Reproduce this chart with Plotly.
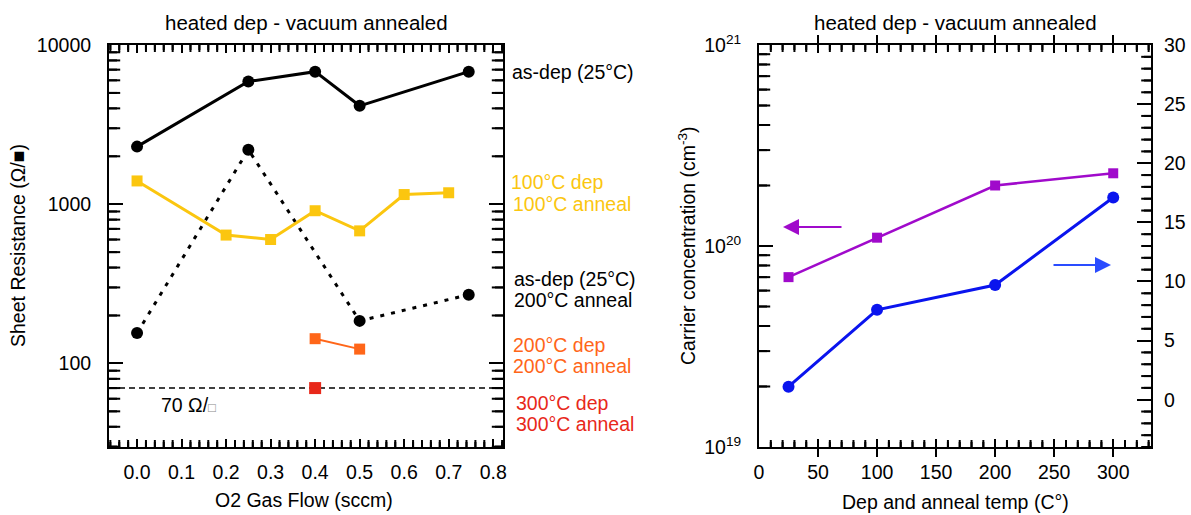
import numpy as np
import plotly.graph_objects as go

W, H = 1191, 515

# ---------------- data ----------------
o2_asdep = [0.0, 0.25, 0.4, 0.5, 0.745]
rs_asdep = [2300, 5900, 6800, 4150, 6800]

o2_asdep_200 = [0.0, 0.25, 0.5, 0.745]
rs_asdep_200 = [155, 2200, 185, 270]

o2_100 = [0.0, 0.2, 0.3, 0.4, 0.5, 0.6, 0.7]
rs_100 = [1400, 640, 600, 910, 680, 1150, 1180]

o2_200 = [0.4, 0.5]
rs_200 = [143, 123]

o2_300 = [0.4]
rs_300 = [70]

rs_threshold = 70

temps = [25, 100, 200, 300]
carrier_conc = [7.0e19, 1.1e20, 2.0e20, 2.3e20]
right_values = [1.1, 7.6, 9.7, 17.1]

x_ticks_left = [0.0, 0.1, 0.2, 0.3, 0.4, 0.5, 0.6, 0.7, 0.8]
x_ticktext_left = ["0.0", "0.1", "0.2", "0.3", "0.4", "0.5", "0.6", "0.7", "0.8"]
y_ticks_left = [100, 1000, 10000]
y_ticktext_left = ["100", "1000", "10000"]
y_ticks_right = [1e19, 1e20, 1e21]
y_ticktext_right = ["10<sup>19</sup>", "10<sup>20</sup>", "10<sup>21</sup>"]

# ---------------- colours ----------------
BLACK = "#000000"
YELLOW = "#FBC60F"
ORANGE = "#FF6619"
RED = "#E8281A"
PURPLE = "#A00ACB"
BLUE = "#0A14EE"
BLUE_ARROW = "#2A4CFF"
FONT = "Liberation Sans, Arial, sans-serif"

# axis ranges
XR_L = [-0.063, 0.822]
YR_L = [1.475, 4]
XR_R = [0, 332]
YR_R = [19, 21]
Y2R_R = [-4, 30]

# plot-area geometry (pixels)
L_X0, L_X1 = 109, 503
R_X0, R_X1 = 759, 1151
P_Y0, P_Y1 = 45, 447


def px(x):
    return x / W


def py(y):
    return 1 - y / H


fig = go.Figure()

# left panel
fig.add_trace(go.Scatter(x=o2_asdep, y=rs_asdep, mode="lines+markers",
                         line=dict(color=BLACK, width=3),
                         marker=dict(symbol="circle", size=12, color=BLACK),
                         xaxis="x", yaxis="y", showlegend=False))
fig.add_trace(go.Scatter(x=o2_asdep_200, y=rs_asdep_200, mode="lines+markers",
                         line=dict(color=BLACK, width=3, dash="4px,7px"),
                         marker=dict(symbol="circle", size=12, color=BLACK),
                         xaxis="x", yaxis="y", showlegend=False))
fig.add_trace(go.Scatter(x=o2_100, y=rs_100, mode="lines+markers",
                         line=dict(color=YELLOW, width=3),
                         marker=dict(symbol="square", size=11, color=YELLOW),
                         xaxis="x", yaxis="y", showlegend=False))
fig.add_trace(go.Scatter(x=o2_200, y=rs_200, mode="lines+markers",
                         line=dict(color=ORANGE, width=2),
                         marker=dict(symbol="square", size=11, color=ORANGE),
                         xaxis="x", yaxis="y", showlegend=False))
fig.add_trace(go.Scatter(x=o2_300, y=rs_300, mode="markers",
                         marker=dict(symbol="square", size=12, color=RED),
                         xaxis="x", yaxis="y", showlegend=False))

# right panel
fig.add_trace(go.Scatter(x=temps, y=carrier_conc, mode="lines+markers",
                         line=dict(color=PURPLE, width=2.5),
                         marker=dict(symbol="square", size=10, color=PURPLE),
                         xaxis="x2", yaxis="y2", showlegend=False))
fig.add_trace(go.Scatter(x=temps, y=right_values, mode="lines+markers",
                         line=dict(color=BLUE, width=3),
                         marker=dict(symbol="circle", size=12, color=BLUE),
                         xaxis="x2", yaxis="y3", showlegend=False))

shapes = []

# 70 ohm/sq reference line
shapes.append(dict(type="line", xref="x domain", x0=0, x1=1, yref="y",
                   y0=rs_threshold, y1=rs_threshold, layer="below",
                   line=dict(color=BLACK, width=1.5, dash="6px,4px")))


def minor_log(lo_exp, hi_exp, lo, hi):
    vals = []
    for e in range(lo_exp, hi_exp + 1):
        for d in range(2, 10):
            v = float(d) * 10.0 ** e
            if lo <= v <= hi:
                vals.append(v)
    return vals


def minor_lin(lo, hi, step, major):
    n0 = int(np.ceil(lo / step - 1e-9))
    n1 = int(np.floor(hi / step + 1e-9))
    out = []
    for n in range(n0, n1 + 1):
        v = n * step
        if abs(v / major - round(v / major)) > 1e-6:
            out.append(round(v, 6))
    return out


TICK_LINE = dict(color=BLACK, width=2)


def x_minor_ticks(xref, yref, vals, length_px, y_edges):
    # shapes (domain-relative) plus clipped line markers at the frame edges
    frac = length_px / (P_Y1 - P_Y0)
    for v in vals:
        shapes.append(dict(type="line", xref=xref, yref=yref + " domain",
                           x0=v, x1=v, y0=0, y1=frac, line=TICK_LINE))
        shapes.append(dict(type="line", xref=xref, yref=yref + " domain",
                           x0=v, x1=v, y0=1 - frac, y1=1, line=TICK_LINE))
    for ye in y_edges:
        fig.add_trace(go.Scatter(
            x=vals, y=[ye] * len(vals), mode="markers", cliponaxis=True,
            marker=dict(symbol="line-ns", size=2 * length_px,
                        line=dict(color=BLACK, width=2)),
            xaxis=xref, yaxis=yref, hoverinfo="skip", showlegend=False))


def y_minor_ticks(xref, yref, vals, length_px, width_px, x_edges, sides):
    frac = length_px / width_px
    for v in vals:
        if "l" in sides:
            shapes.append(dict(type="line", xref=xref + " domain", yref=yref,
                               x0=0, x1=frac, y0=v, y1=v, line=TICK_LINE))
        if "r" in sides:
            shapes.append(dict(type="line", xref=xref + " domain", yref=yref,
                               x0=1 - frac, x1=1, y0=v, y1=v, line=TICK_LINE))
    for xe in x_edges:
        fig.add_trace(go.Scatter(
            x=[xe] * len(vals), y=vals, mode="markers", cliponaxis=True,
            marker=dict(symbol="line-ew", size=2 * length_px,
                        line=dict(color=BLACK, width=2)),
            xaxis=xref, yaxis=yref, hoverinfo="skip", showlegend=False))


x_minor_ticks("x", "y", minor_lin(XR_L[0], XR_L[1], 0.02, 0.1), 5,
              [10 ** YR_L[0], 10 ** YR_L[1]])
y_minor_ticks("x", "y", minor_log(1, 3, 29, 10000), 8, L_X1 - L_X0,
              XR_L, "lr")
x_minor_ticks("x2", "y2", minor_lin(XR_R[0], XR_R[1], 10, 50), 5,
              [10.0 ** YR_R[0], 10.0 ** YR_R[1]])
y_minor_ticks("x2", "y2", minor_log(19, 20, 1e19, 1e21), 8, R_X1 - R_X0,
              [XR_R[0]], "l")
y_minor_ticks("x2", "y3", minor_lin(Y2R_R[0], Y2R_R[1], 1, 5), 7, R_X1 - R_X0,
              [XR_R[1]], "r")

dom_y = [py(P_Y1), py(P_Y0)]
dom_xl = [px(L_X0), px(L_X1)]
dom_xr = [px(R_X0), px(R_X1)]
tickfont = dict(family=FONT, size=19.5, color=BLACK)

common = dict(showline=True, linecolor=BLACK, linewidth=2, ticks="inside",
              tickcolor=BLACK, tickwidth=2, showgrid=False, zeroline=False,
              tickfont=tickfont, automargin=False)

fig.update_layout(
    width=W, height=H,
    autosize=False,
    margin=dict(l=0, r=0, t=0, b=0, pad=0, autoexpand=False),
    paper_bgcolor="white", plot_bgcolor="white",
    font=dict(family=FONT, color=BLACK),
    xaxis=dict(domain=dom_xl, range=XR_L, anchor="y",
               tickmode="array", tickvals=x_ticks_left, ticktext=x_ticktext_left,
               ticklen=8, mirror="allticks", ticklabelstandoff=7, **common),
    yaxis=dict(domain=dom_y, type="log", range=YR_L, anchor="x",
               tickmode="array", tickvals=y_ticks_left, ticktext=y_ticktext_left,
               ticklen=14, mirror="allticks", ticklabelstandoff=12, **common),
    xaxis2=dict(domain=dom_xr, range=XR_R, anchor="y2",
                tickmode="linear", tick0=0, dtick=50,
                ticklen=8, mirror="allticks", ticklabelstandoff=7, **common),
    yaxis2=dict(domain=dom_y, type="log", range=YR_R, anchor="x2",
                tickmode="array", tickvals=y_ticks_right, ticktext=y_ticktext_right,
                ticklen=14, mirror=False, ticklabelstandoff=12, **common),
    yaxis3=dict(domain=dom_y, range=Y2R_R, anchor="x2", overlaying="y2",
                side="right", tickmode="linear", tick0=0, dtick=5,
                ticklen=14, ticklabelstandoff=7, **common),
    shapes=shapes,
)

ann = []


def text(t, x, y, color=BLACK, size=19.5, xanchor="left", angle=0):
    ann.append(dict(text=t, x=px(x), y=py(y), xref="paper", yref="paper",
                    xanchor=xanchor, yanchor="middle", showarrow=False,
                    borderpad=0, textangle=angle,
                    font=dict(family=FONT, size=size, color=color)))


text("heated dep - vacuum annealed", 306, 22, size=20.5, xanchor="center")
text("heated dep - vacuum annealed", 955, 22, size=20.5, xanchor="center")
text("O2 Gas Flow (sccm)", 304, 500, xanchor="center")
text("Dep and anneal temp (C°)", 955, 502, xanchor="center")
text("Sheet Resistance (Ω/■)", 18, 246, xanchor="center", angle=-90)
text("Carrier concentration (cm<sup>-3</sup>)", 687, 246, xanchor="center", angle=-90)
text("70 Ω/<span style='color:#888888;font-size:13px'>□</span>", 160, 405)

text("as-dep (25°C)", 511, 72)
text("100°C dep", 510, 182, YELLOW)
text("100°C anneal", 512, 204, YELLOW)
text("as-dep (25°C)", 513, 279)
text("200°C anneal", 513, 300)
text("200°C dep", 512, 345, ORANGE)
text("200°C anneal", 512, 366, ORANGE)
text("300°C dep", 515, 403, RED)
text("300°C anneal", 515, 424, RED)

# arrows indicating axis association
ann.append(dict(x=px(783), y=py(227), xref="paper", yref="paper", text="",
                showarrow=True, ax=60, ay=0, arrowhead=2, arrowsize=1.6,
                arrowwidth=2, arrowcolor=PURPLE))
ann.append(dict(x=px(1111), y=py(265), xref="paper", yref="paper", text="",
                showarrow=True, ax=-59, ay=0, arrowhead=2, arrowsize=1.6,
                arrowwidth=2, arrowcolor=BLUE_ARROW))

fig.update_layout(annotations=ann)

fig.write_html("out.html")
